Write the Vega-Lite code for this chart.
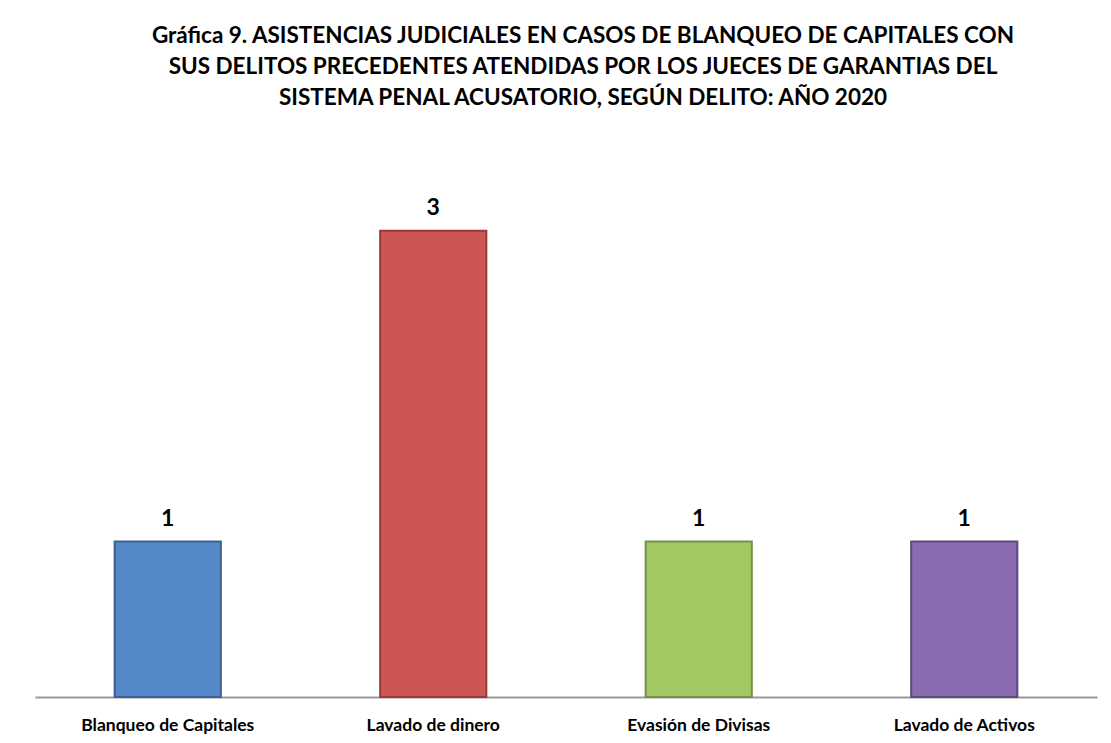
{
  "$schema": "https://vega.github.io/schema/vega-lite/v6.json",
  "autosize": {"type": "none"},
  "width": 1062,
  "height": 544,
  "padding": {"left": 35, "top": 153, "right": 14, "bottom": 46},
  "background": "white",
  "config": {"view": {"stroke": null}, "font": "Lato"},
  "title": {
    "text": ["Gráfica 9.  ASISTENCIAS JUDICIALES EN CASOS DE BLANQUEO DE CAPITALES CON", "SUS DELITOS PRECEDENTES ATENDIDAS POR LOS JUECES DE GARANTIAS DEL", "SISTEMA PENAL ACUSATORIO, SEGÚN DELITO: AÑO 2020"],
    "font": "Lato",
    "fontSize": 22.5,
    "fontWeight": "bold",
    "color": "#000000",
    "lineHeight": 31,
    "anchor": "middle",
    "frame": "group",
    "offset": 44,
    "dx": 17
  },
  "data": {"values": [
    {"delito": "Blanqueo de Capitales", "casos": 1},
    {"delito": "Lavado de dinero", "casos": 3},
    {"delito": "Evasión de Divisas", "casos": 1},
    {"delito": "Lavado de Activos", "casos": 1}
  ]},
  "encoding": {
    "x": {"field": "delito", "type": "nominal", "sort": null,
      "scale": {"paddingInner": 0.6, "paddingOuter": 0.3},
      "axis": {"title": null, "labelAngle": 0, "ticks": false, "domainColor": "#9a9a9a", "domainWidth": 2, "labelFont": "Lato", "labelFontSize": 17.5, "labelFontWeight": "bold", "labelColor": "#000000", "labelPadding": 19}},
    "y": {"field": "casos", "type": "quantitative", "scale": {"domain": [0, 3.5]}, "axis": null}
  },
  "layer": [
    {"mark": {"type": "bar", "strokeWidth": 2},
     "encoding": {
       "color": {"field": "delito", "type": "nominal", "sort": null, "legend": null,
         "scale": {"domain": ["Blanqueo de Capitales", "Lavado de dinero", "Evasión de Divisas", "Lavado de Activos"], "range": ["#5588C8", "#CC5653", "#A3C762", "#8A6CB0"]}},
       "stroke": {"field": "delito", "type": "nominal", "sort": null, "legend": null,
         "scale": {"domain": ["Blanqueo de Capitales", "Lavado de dinero", "Evasión de Divisas", "Lavado de Activos"], "range": ["#3a6296", "#973c3a", "#76924a", "#5e4a7c"]}}
     }},
    {"mark": {"type": "text", "baseline": "alphabetic", "dy": -16, "font": "Lato", "fontSize": 23, "fontWeight": "bold", "color": "#000000"},
     "encoding": {"text": {"field": "casos", "type": "quantitative"}}}
  ]
}
